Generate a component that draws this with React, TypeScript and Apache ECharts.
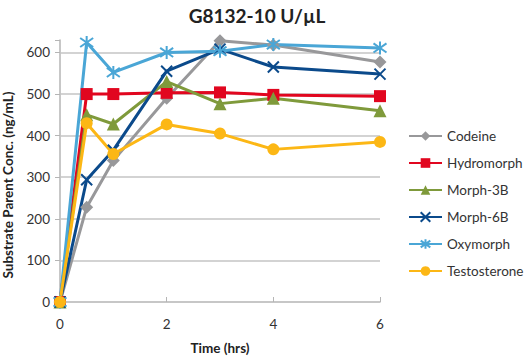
import React, { useEffect, useRef } from "react";
import * as echarts from "echarts";

const times = [0, 0.5, 1, 2, 3, 4, 6];
const codeine = [0, 228, 340, 490, 628, 618, 577];
const hydromorph = [0, 500, 500, 503, 504, 498, 495];
const morph3b = [0, 450, 428, 530, 477, 490, 460];
const morph6b = [0, 294, 365, 555, 608, 565, 548];
const oxymorph = [0, 624, 552, 600, 603, 619, 611];
const testosterone = [0, 430, 356, 427, 405, 367, 385];
const gridValues = [100, 200, 300, 400, 500, 600];
const xTicks = [0, 2, 4, 6];

const FONT = "Lato, 'Open Sans', sans-serif";

const X_PATH = "path://M1,1L9,9M9,1L1,9";
const STAR_PATH = "path://M1.5,1.5L8.5,8.5M8.5,1.5L1.5,8.5M5,0L5,10";

export default function App() {
  const ref = useRef<HTMLDivElement>(null);
  useEffect(() => {
    if (!ref.current) return;
    const chart = echarts.init(ref.current, undefined, { renderer: "svg" });
    const mk = (name: string, values: number[], color: string, symbol: string, size: number, stroke = false) => ({
      name,
      type: "line",
      data: times.map((t, i) => [t, values[i]]),
      symbol,
      symbolSize: size,
      lineStyle: { color, width: 3 },
      itemStyle: stroke
        ? { color, borderColor: color, borderWidth: 2 }
        : { color, borderWidth: 0 },
      z: 3,
    });
    chart.setOption({
      animation: false,
      textStyle: { fontFamily: FONT },
      title: {
        text: "G8132-10 U/µL",
        left: 252,
        textAlign: "center",
        top: 1,
        textStyle: { fontFamily: FONT, fontSize: 19, fontWeight: "bold", color: "#222" },
      },
      graphic: [
        {
          type: "text",
          x: 8,
          y: 185,
          rotation: Math.PI / 2,
          style: {
            text: "Substrate Parent Conc. (ng/mL)",
            font: `bold 13.5px ${FONT}`,
            fill: "#222",
            align: "center",
            verticalAlign: "middle",
          },
        },
      ],
      legend: {
        orient: "vertical",
        left: 403,
        top: 124,
        itemWidth: 33,
        itemHeight: 12,
        itemGap: 13,
        data: ["Codeine", "Hydromorph", "Morph-3B", "Morph-6B", "Oxymorph", "Testosterone"],
        textStyle: { fontFamily: FONT, fontSize: 13.5, color: "#333" },
      },
      grid: { left: 60, right: 144, top: 40, bottom: 50 },
      xAxis: {
        type: "value",
        min: 0,
        max: 6,
        interval: 2,
        name: "Time (hrs)",
        nameLocation: "middle",
        nameGap: 39,
        nameTextStyle: { fontFamily: FONT, fontSize: 13.5, fontWeight: "bold", color: "#222" },
        axisLine: { lineStyle: { color: "#b5b5b5", width: 1.5 } },
        axisTick: { show: true, inside: true, length: 5, lineStyle: { color: "#b5b5b5" } },
        axisLabel: {
          fontFamily: FONT,
          fontSize: 13.5,
          color: "#333",
          margin: 15,
          formatter: (v: number) => (xTicks.includes(v) ? String(v) : ""),
        },
        splitLine: { show: false },
      },
      yAxis: {
        type: "value",
        min: 0,
        max: 630,
        interval: 100,
        axisLine: { show: true, lineStyle: { color: "#b5b5b5", width: 1.5 } },
        axisTick: { show: true, length: 5, lineStyle: { color: "#b5b5b5" } },
        axisLabel: {
          fontFamily: FONT,
          fontSize: 13.5,
          color: "#333",
          margin: 10,
          formatter: (v: number) => (v % 100 === 0 ? String(v) : ""),
        },
        splitLine: { show: false },
      },
      series: [
        {
          name: "grid",
          type: "line",
          data: [],
          z: 1,
          markLine: {
            silent: true,
            z: 1,
            symbol: ["none", "none"],
            label: { show: false },
            lineStyle: { color: "#c4c4c4", width: 1.5, type: "solid" },
            data: gridValues.map((v) => ({ yAxis: v })),
          },
        },
        mk("Codeine", codeine, "#98989a", "diamond", 13),
        mk("Hydromorph", hydromorph, "#e1061f", "rect", 12),
        mk("Morph-3B", morph3b, "#7f9a3b", "triangle", 13),
        mk("Morph-6B", morph6b, "#0b4a8b", X_PATH, 11, true),
        mk("Oxymorph", oxymorph, "#4aa6d6", STAR_PATH, 13, true),
        mk("Testosterone", testosterone, "#fcb715", "circle", 12),
      ],
    });
    return () => chart.dispose();
  }, []);
  return (
    <div
      ref={ref}
      style={{ position: "fixed", left: 0, top: 0, width: 524, height: 360, background: "#fff" }}
    />
  );
}
